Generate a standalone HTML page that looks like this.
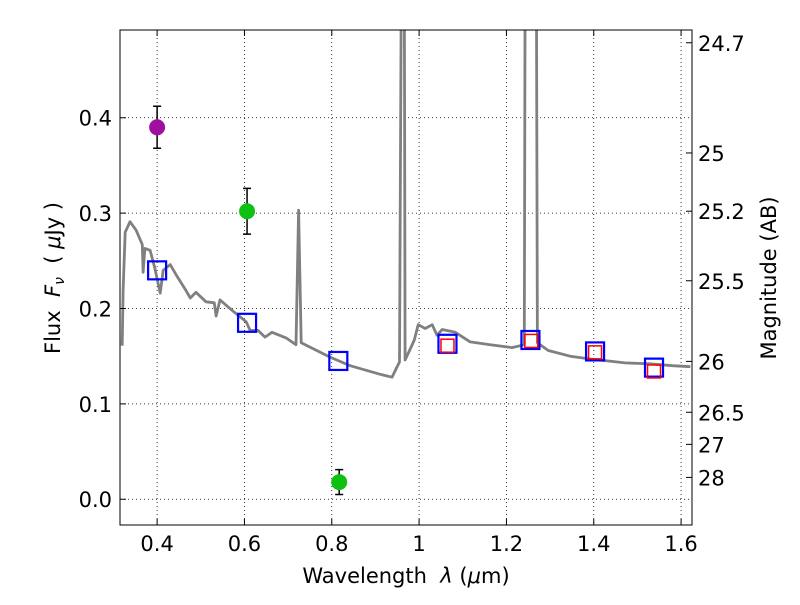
<!DOCTYPE html>
<html><head><meta charset="utf-8"><style>
body{margin:0;background:#fff;}
svg{font-family:"DejaVu Sans","Liberation Sans",sans-serif;}
</style></head><body>
<svg id="chart" width="800" height="600" viewBox="0 0 800 600" xmlns="http://www.w3.org/2000/svg">
<defs><clipPath id="clip"><rect x="120" y="30" width="572" height="495"/></clipPath></defs>
<rect x="0" y="0" width="800" height="600" fill="#fff"/>
<g id="grid"></g>
<g id="series" clip-path="url(#clip)"></g>
<rect x="120" y="30" width="572" height="495" fill="none" stroke="#000" stroke-width="1"/>
<g id="axes"></g>
<text x="406" y="583" font-size="21" text-anchor="middle">Wavelength&#160;&#160;<tspan font-style="italic">λ</tspan>&#160;(<tspan font-style="italic">μ</tspan>m)</text>
<text transform="translate(60,278) rotate(-90)" font-size="21" text-anchor="middle">Flux&#160;&#160;<tspan font-style="italic">F</tspan><tspan font-style="italic" font-size="14" dy="4">ν</tspan><tspan dy="-4">&#160;&#160;(&#160;</tspan><tspan font-style="italic">μ</tspan>Jy&#160;)</text>
<text transform="translate(776,278) rotate(-90)" font-size="21" text-anchor="middle">Magnitude (AB)</text>
</svg>
<script>
const specWave=[0.320,0.322,0.327,0.338,0.352,0.366,0.368,0.372,0.384,0.395,0.407,0.414,0.430,0.444,0.466,0.476,0.489,0.512,0.531,0.535,0.544,0.572,0.604,0.613,0.631,0.647,0.663,0.696,0.718,0.724,0.730,0.796,0.842,0.911,0.938,0.955,0.964,0.968,0.980,0.989,0.998,1.014,1.030,1.041,1.053,1.083,1.117,1.163,1.213,1.241,1.245,1.266,1.271,1.296,1.346,1.392,1.472,1.529,1.580,1.621];
const specFlux=[0.161,0.219,0.280,0.291,0.282,0.267,0.238,0.263,0.261,0.242,0.216,0.240,0.246,0.235,0.219,0.211,0.217,0.207,0.206,0.192,0.209,0.198,0.186,0.177,0.177,0.170,0.175,0.169,0.162,0.303,0.164,0.149,0.140,0.131,0.128,0.144,1.0,0.146,0.158,0.167,0.183,0.179,0.183,0.172,0.178,0.175,0.165,0.162,0.159,0.162,1.0,1.0,0.164,0.156,0.150,0.147,0.143,0.142,0.140,0.139];
const photWave=[0.400,0.606,0.817];
const photFlux=[0.390,0.302,0.018];
const photErr=[0.022,0.024,0.013];
const photColor=["#a0109f","#10c010","#10c010"];
const modelWave=[0.400,0.606,0.815,1.065,1.255,1.403,1.538];
const modelFlux=[0.240,0.185,0.145,0.163,0.167,0.155,0.138];
const hstWave=[1.065,1.257,1.403,1.538];
const hstFlux=[0.161,0.166,0.154,0.134];
const xTicks=[0.4,0.6,0.8,1.0,1.2,1.4,1.6];
const xTickLabels=["0.4","0.6","0.8","1","1.2","1.4","1.6"];
const yTicks=[0,0.1,0.2,0.3,0.4];
const yTickLabels=["0.0","0.1","0.2","0.3","0.4"];
const magTicks=[24.7,25,25.2,25.5,26,26.5,27,28];
const magTickLabels=["24.7","25","25.2","25.5","26","26.5","27","28"];

const X0=120,X1=692,Y0=525,Y1=30,xmin=0.315,xmax=1.625,ymin=-0.027,ymax=0.492;
const sx=v=>X0+(v-xmin)/(xmax-xmin)*(X1-X0);
const sy=v=>Y0-(v-ymin)/(ymax-ymin)*(Y0-Y1);
const NS="http://www.w3.org/2000/svg";
function mk(parent,tag,attrs){const e=document.createElementNS(NS,tag);for(const k in attrs)e.setAttribute(k,attrs[k]);parent.appendChild(e);return e;}
const grid=document.getElementById('grid'),series=document.getElementById('series'),axes=document.getElementById('axes');
xTicks.forEach((t,i)=>{
 const g=mk(grid,'line',{x1:sx(t),x2:sx(t),y1:Y1,y2:Y0,stroke:'#000','stroke-width':0.8,'stroke-dasharray':'1,3'});
 
 
 mk(axes,'line',{x1:sx(t),x2:sx(t),y1:Y0,y2:Y0-6,stroke:'#000'});
 mk(axes,'line',{x1:sx(t),x2:sx(t),y1:Y1,y2:Y1+6,stroke:'#000'});
 const l=mk(axes,'text',{x:sx(t),y:Y0+26,'font-size':21,'text-anchor':'middle'});l.textContent=xTickLabels[i];
 
 
});
yTicks.forEach((t,i)=>{
 const g=mk(grid,'line',{x1:X0,x2:X1,y1:sy(t),y2:sy(t),stroke:'#000','stroke-width':0.8,'stroke-dasharray':'1,3'});
 
 
 mk(axes,'line',{x1:X0,x2:X0+6,y1:sy(t),y2:sy(t),stroke:'#000'});
 const l=mk(axes,'text',{x:X0-8,y:sy(t)+8,'font-size':21,'text-anchor':'end'});l.textContent=yTickLabels[i];
 
 
});
magTicks.forEach((m,i)=>{
 const f=Math.pow(10,(23.9-m)/2.5);const y=sy(f);
 mk(axes,'line',{x1:X1,x2:X1-6,y1:y,y2:y,stroke:'#000'});
 const l=mk(axes,'text',{x:X1+6,y:y+8,'font-size':21});l.textContent=magTickLabels[i];
 
 
});
const pts=specWave.map((w,i)=>sx(w).toFixed(1)+','+sy(specFlux[i]).toFixed(1)).join(' ');
const sp=mk(series,'polyline',{points:pts,fill:'none',stroke:'#808080','stroke-width':2.8,'stroke-linejoin':'round'});


modelWave.forEach((w,i)=>{
 const r=mk(series,'rect',{x:sx(w)-9,y:sy(modelFlux[i])-9,width:18,height:18,fill:'none',stroke:'#0000ff','stroke-width':2.2});
 
 
});
hstWave.forEach((w,i)=>{
 const r=mk(series,'rect',{x:sx(w)-6.5,y:sy(hstFlux[i])-6.5,width:13,height:13,fill:'none',stroke:'#ff0000','stroke-width':1.5});
 
 
});
photWave.forEach((w,i)=>{
 const x=sx(w),y=sy(photFlux[i]),ya=sy(photFlux[i]+photErr[i]),yb=sy(photFlux[i]-photErr[i]);
 const e=mk(series,'path',{d:`M${x},${ya}V${yb}M${x-4},${ya}H${x+4}M${x-4},${yb}H${x+4}`,stroke:'#000','stroke-width':1.5,fill:'none'});
 
 
 const c=mk(series,'circle',{cx:x,cy:y,r:8,fill:photColor[i]});
 
 
});
</script>
</body></html>
